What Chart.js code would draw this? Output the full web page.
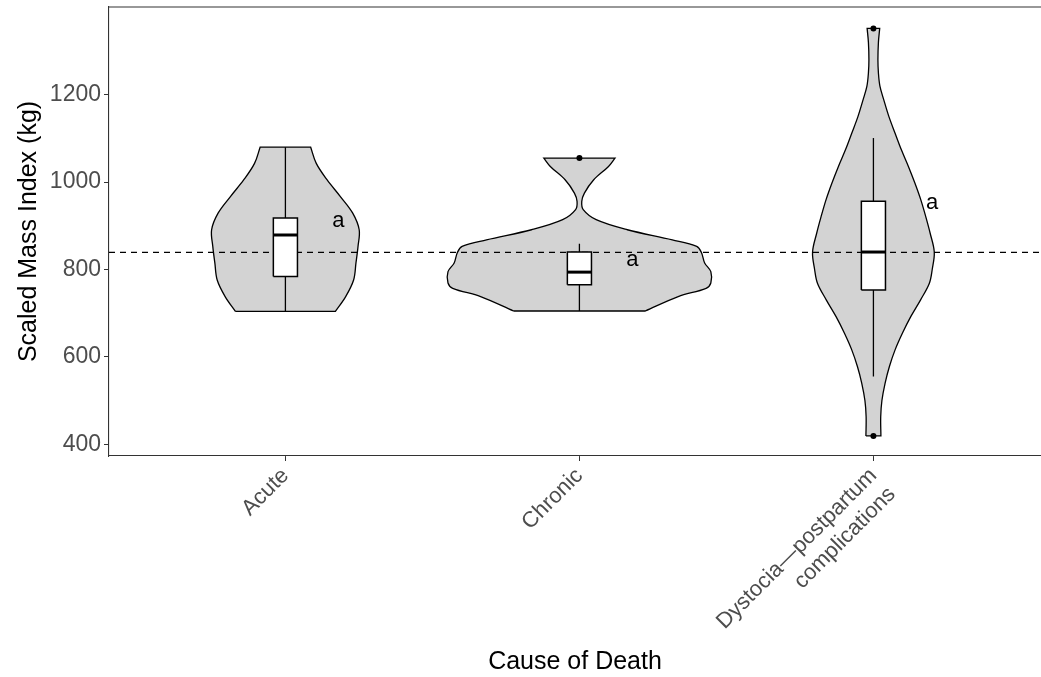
<!DOCTYPE html>
<html>
<head>
<meta charset="utf-8">
<script src="https://cdn.jsdelivr.net/npm/chart.js@4.4.1/dist/chart.umd.min.js"></script>
<style>
  html, body { margin: 0; padding: 0; background: #fff; }
  #wrap { width: 1041px; height: 677px; }
</style>
</head>
<body>
<div id="wrap"><canvas id="myChart"></canvas></div>
<script>
// categories, placed at x = 1, 2, 3
var causes = ["Acute", "Chronic", ["Dystocia\u2014postpartum", "complications"]];
var catPos = [1, 2, 3];
var yTicks = [400, 600, 800, 1000, 1200];

// violin outlines: y levels (kg) and half widths (x units)
var acuteY = [704, 738, 776, 815, 853, 891, 929, 967, 1005, 1043, 1080];
var acuteW = [0.170, 0.205, 0.232, 0.240, 0.247, 0.251, 0.229, 0.187, 0.142, 0.105, 0.086];

var chronicY = [705, 738, 757, 769, 795, 815, 839, 853, 868, 891, 914, 937, 956, 975, 1005, 1036, 1055];
var chronicW = [0.224, 0.336, 0.431, 0.447, 0.447, 0.426, 0.415, 0.399, 0.316, 0.163, 0.057, 0.013, 0.008, 0.017, 0.048, 0.099, 0.121];

var dystociaY = [419, 463, 500, 540, 578, 616, 654, 692, 730, 768, 800, 840, 883, 921, 960, 998, 1036, 1074, 1112, 1150, 1189, 1220, 1250, 1280, 1320, 1352];
var dystociaW = [0.0255, 0.0248, 0.0289, 0.0398, 0.0544, 0.0737, 0.0985, 0.127, 0.16, 0.19, 0.2, 0.207, 0.193, 0.178, 0.161, 0.141, 0.119, 0.0951, 0.0737, 0.0527, 0.035, 0.0221, 0.017, 0.0153, 0.017, 0.0214];

// boxplot stats: whisker low, q1, median, q3, whisker high
var acuteBox = [704, 784, 879, 918, 1080];
var chronicBox = [705, 765, 794, 840, 859];
var dystociaBox = [555, 753, 840, 956, 1101];

// outliers
var outlierCat = [2, 3, 3];
var outlierVal = [1055, 1352, 419];

// dashed reference line
var refValue = 839;

// group letters
var letters = ["a", "a", "a"];
var letterX = [1.18, 2.18, 3.2];
var letterY = [911, 822, 952];

var fontFam = "'Liberation Sans', Arial, Helvetica, sans-serif";
var boxHalf = 0.041;
var xMin = 0.4, xMax = 3.57;

function violinShape(cx, ys, ws) {
  var n = ys.length;
  var pts = [];
  pts.push({ x: cx - ws[0], y: ys[0] });
  pts.push({ x: cx + ws[0], y: ys[0] });
  for (var i = 0; i < n; i++) pts.push({ x: cx + ws[i], y: ys[i] });
  pts.push({ x: cx + ws[n - 1], y: ys[n - 1] });
  pts.push({ x: cx - ws[n - 1], y: ys[n - 1] });
  for (var j = n - 1; j >= 0; j--) pts.push({ x: cx - ws[j], y: ys[j] });
  return pts;
}

function boxShape(cx, b) {
  return [
    { x: cx - boxHalf, y: b[1] }, { x: cx + boxHalf, y: b[1] },
    { x: cx + boxHalf, y: b[3] }, { x: cx - boxHalf, y: b[3] },
    { x: cx - boxHalf, y: b[1] }
  ];
}

var violins = [[acuteY, acuteW], [chronicY, chronicW], [dystociaY, dystociaW]];
var boxes = [acuteBox, chronicBox, dystociaBox];

var datasets = [];
violins.forEach(function (v, i) {
  datasets.push({
    data: violinShape(catPos[i], v[0], v[1]),
    borderColor: "#000", borderWidth: 1.3, backgroundColor: "#d3d3d3",
    fill: "shape", tension: 0.35, pointRadius: 0, order: 5
  });
});
datasets.push({
  data: [{ x: xMin, y: refValue }, { x: xMax, y: refValue }],
  borderColor: "#000", borderWidth: 1.3, borderDash: [6, 5], fill: false,
  pointRadius: 0, order: 4
});
boxes.forEach(function (b, i) {
  datasets.push({
    data: [{ x: catPos[i], y: b[0] }, { x: catPos[i], y: b[4] }],
    borderColor: "#000", borderWidth: 1.3, fill: false, pointRadius: 0, order: 3
  });
  datasets.push({
    data: boxShape(catPos[i], b),
    borderColor: "#000", borderWidth: 1.5, backgroundColor: "#fff",
    fill: "shape", tension: 0, pointRadius: 0, order: 2
  });
  datasets.push({
    data: [{ x: catPos[i] - boxHalf, y: b[2] }, { x: catPos[i] + boxHalf, y: b[2] }],
    borderColor: "#000", borderWidth: 3, fill: false, pointRadius: 0, order: 1
  });
});
datasets.push({
  data: outlierCat.map(function (c, i) { return { x: c, y: outlierVal[i] }; }),
  showLine: false, pointRadius: 3, pointBackgroundColor: "#000",
  pointBorderColor: "#000", pointBorderWidth: 0, order: 0
});

var framePlugin = {
  id: "frame",
  afterDatasetsDraw: function (chart) {
    var ctx = chart.ctx, a = chart.chartArea;
    var xs = chart.scales.x, ys = chart.scales.y;
    ctx.save();
    ctx.strokeStyle = "#333";
    ctx.lineWidth = 1.1;
    ctx.beginPath();
    ctx.moveTo(a.left, a.top);
    ctx.lineTo(a.right, a.top);
    ctx.stroke();
    ctx.fillStyle = "#000";
    ctx.font = "22px " + fontFam;
    ctx.textAlign = "center";
    ctx.textBaseline = "middle";
    letters.forEach(function (t, i) {
      ctx.fillText(t, xs.getPixelForValue(letterX[i]), ys.getPixelForValue(letterY[i]));
    });
    ctx.restore();
  }
};

new Chart("myChart", {
  type: "line",
  data: { datasets: datasets },
  options: {
    responsive: true,
    maintainAspectRatio: false,
    animation: false,
    layout: { autoPadding: false, padding: { top: 7, right: 0, left: 0, bottom: 0 } },
    plugins: { legend: { display: false }, tooltip: { enabled: false } },
    scales: {
      x: {
        type: "linear",
        min: xMin,
        max: xMax,
        afterBuildTicks: function (axis) {
          axis.ticks = catPos.map(function (v) { return { value: v }; });
        },
        afterFit: function (axis) {
          axis.height = 221;
          axis.paddingLeft = 0;
          axis.paddingRight = 0;
        },
        grid: { drawOnChartArea: false, drawTicks: true, tickLength: 5, color: "#333" },
        border: { display: true, color: "#333", width: 1.1 },
        ticks: {
          autoSkip: false,
          minRotation: 45,
          maxRotation: 45,
          padding: 2,
          color: "#4d4d4d",
          font: { family: fontFam, size: 22 },
          callback: function (value) { return causes[value - 1]; }
        },
        title: {
          display: true,
          text: "Cause of Death",
          color: "#000",
          font: { family: fontFam, size: 25 },
          padding: { top: 0, bottom: 0 }
        }
      },
      y: {
        min: 373,
        max: 1401,
        afterBuildTicks: function (axis) {
          axis.ticks = yTicks.map(function (v) { return { value: v }; });
        },
        afterFit: function (axis) {
          axis.width = 109;
          axis.paddingTop = 0;
          axis.paddingBottom = 0;
        },
        grid: { drawOnChartArea: false, drawTicks: true, tickLength: 5, color: "#333" },
        border: { display: true, color: "#333", width: 1.1 },
        ticks: {
          padding: 3,
          color: "#4d4d4d",
          font: { family: fontFam, size: 23 },
          callback: function (value) { return String(value); }
        },
        title: {
          display: true,
          text: "Scaled Mass Index (kg)",
          color: "#000",
          font: { family: fontFam, size: 25 },
          padding: { top: 14, bottom: 0 }
        }
      }
    }
  },
  plugins: [framePlugin]
});
</script>
</body>
</html>
